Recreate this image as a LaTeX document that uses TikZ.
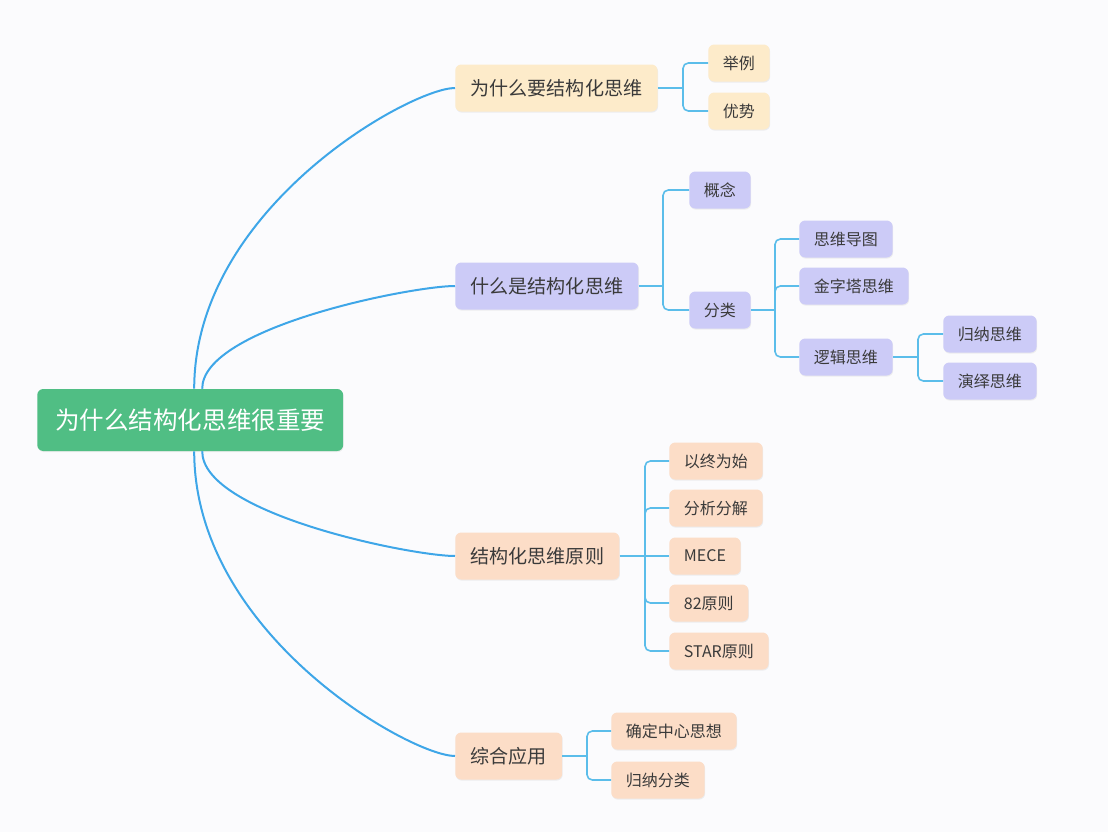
\documentclass[tikz,border=0pt]{standalone}
\usepackage{fontspec}
\newfontfamily\cjk{Noto Sans CJK SC}
\usetikzlibrary{calc,shadows}
\definecolor{bg}{HTML}{FBFBFD}
\definecolor{rootc}{HTML}{50BE84}
\definecolor{creamc}{HTML}{FDEBCA}
\definecolor{lavc}{HTML}{CCCBF7}
\definecolor{peachc}{HTML}{FCDDC7}
\definecolor{mainline}{HTML}{3EA6E8}
\definecolor{subline}{HTML}{5BBDEA}
\definecolor{txt}{HTML}{3A3A3A}
\tikzset{
  box/.style={anchor=west, rounded corners=4.5pt, text=txt, font=\cjk,
    drop shadow={opacity=0.12, shadow xshift=0.4pt, shadow yshift=-0.8pt}},
  rootbox/.style={box, fill=rootc, text=white, minimum height=46.5pt, inner xsep=13.5pt,
    font=\cjk\fontsize{18.4pt}{21pt}\selectfont},
  branchbox/.style={box, minimum height=35.25pt, inner xsep=11.5pt,
    font=\cjk\fontsize{14.3pt}{17pt}\selectfont},
  leafbox/.style={box, minimum height=27.75pt, inner xsep=11pt,
    font=\cjk\fontsize{12pt}{14pt}\selectfont},
  mainlink/.style={draw=mainline, line width=1.5pt},
  sublink/.style={draw=subline, line width=1.2pt, rounded corners=4pt},
}
\begin{document}
\begin{tikzpicture}[x=0.75pt, y=-0.75pt]
\fill[bg] (0,0) rectangle (1108,832);
\useasboundingbox (0,0) rectangle (1108,832);

% root
\node[rootbox] (root) at (37,420) {为什么结构化思维很重要};

% branches
\node[branchbox, fill=creamc] (b1) at (455,88) {为什么要结构化思维};
\node[branchbox, fill=lavc] (b2) at (455,286) {什么是结构化思维};
\node[branchbox, fill=peachc] (b3) at (455,556) {结构化思维原则};
\node[branchbox, fill=peachc] (b4) at (455,756) {综合应用};

% branch 1 leaves
\node[leafbox, fill=creamc] (l11) at (708,63) {举例};
\node[leafbox, fill=creamc] (l12) at (708,111) {优势};

% branch 2 leaves
\node[leafbox, fill=lavc] (l21) at (689,190) {概念};
\node[leafbox, fill=lavc] (l22) at (689,310) {分类};
\node[leafbox, fill=lavc] (l221) at (799,239) {思维导图};
\node[leafbox, fill=lavc] (l222) at (799,286) {金字塔思维};
\node[leafbox, fill=lavc] (l223) at (799,357) {逻辑思维};
\node[leafbox, fill=lavc] (l2231) at (943,334) {归纳思维};
\node[leafbox, fill=lavc] (l2232) at (943,381) {演绎思维};

% branch 3 leaves
\node[leafbox, fill=peachc] (l31) at (669,461) {以终为始};
\node[leafbox, fill=peachc] (l32) at (669,508) {分析分解};
\node[leafbox, fill=peachc] (l33) at (669,556) {MECE};
\node[leafbox, fill=peachc] (l34) at (669,603) {82原则};
\node[leafbox, fill=peachc] (l35) at (669,651) {STAR原则};

% branch 4 leaves
\node[leafbox, fill=peachc] (l41) at (611,731) {确定中心思想};
\node[leafbox, fill=peachc] (l42) at (611,780) {归纳分类};

% main curved links
\coordinate (s1) at ($(root.north)+(4,0)$);
\coordinate (s2) at ($(root.north)+(12,0)$);
\coordinate (s3) at ($(root.south)+(12,0)$);
\coordinate (s4) at ($(root.south)+(4,0)$);
\draw[mainlink] (s1) .. controls ($(s1)!0.6!(s1|-b1.west)$) and ($(b1.west)!0.17!(b1.west-|s1)$) .. (b1.west);
\draw[mainlink] (s2) .. controls ($(s2)!0.6!(s2|-b2.west)$) and ($(b2.west)!0.17!(b2.west-|s2)$) .. (b2.west);
\draw[mainlink] (s3) .. controls ($(s3)!0.6!(s3|-b3.west)$) and ($(b3.west)!0.17!(b3.west-|s3)$) .. (b3.west);
\draw[mainlink] (s4) .. controls ($(s4)!0.6!(s4|-b4.west)$) and ($(b4.west)!0.17!(b4.west-|s4)$) .. (b4.west);

% bus coordinates
\coordinate (j1) at (683,88);
\coordinate (j2) at (663,286);
\coordinate (j22) at (775,310);
\coordinate (j223) at (918,357);
\coordinate (j3) at (645,556);
\coordinate (j4) at (587,756);

% branch 1
\draw[sublink] (b1.east) -- (j1);
\draw[sublink] (j1) -- (j1|-l11.west) -- (l11.west);
\draw[sublink] (j1) -- (j1|-l12.west) -- (l12.west);
% branch 2
\draw[sublink] (b2.east) -- (j2);
\draw[sublink] (j2) -- (j2|-l21.west) -- (l21.west);
\draw[sublink] (j2) -- (j2|-l22.west) -- (l22.west);
\draw[sublink] (l22.east) -- (j22);
\draw[sublink] (j22) -- (j22|-l221.west) -- (l221.west);
\draw[sublink] (j22) -- (j22|-l222.west) -- (l222.west);
\draw[sublink] (j22) -- (j22|-l223.west) -- (l223.west);
\draw[sublink] (l223.east) -- (j223);
\draw[sublink] (j223) -- (j223|-l2231.west) -- (l2231.west);
\draw[sublink] (j223) -- (j223|-l2232.west) -- (l2232.west);
% branch 3
\draw[sublink] (b3.east) -- (j3);
\draw[sublink] (j3) -- (j3|-l31.west) -- (l31.west);
\draw[sublink] (j3) -- (j3|-l32.west) -- (l32.west);
\draw[sublink] (j3) -- (l33.west);
\draw[sublink] (j3) -- (j3|-l34.west) -- (l34.west);
\draw[sublink] (j3) -- (j3|-l35.west) -- (l35.west);
% branch 4
\draw[sublink] (b4.east) -- (j4);
\draw[sublink] (j4) -- (j4|-l41.west) -- (l41.west);
\draw[sublink] (j4) -- (j4|-l42.west) -- (l42.west);
\end{tikzpicture}
\end{document}
